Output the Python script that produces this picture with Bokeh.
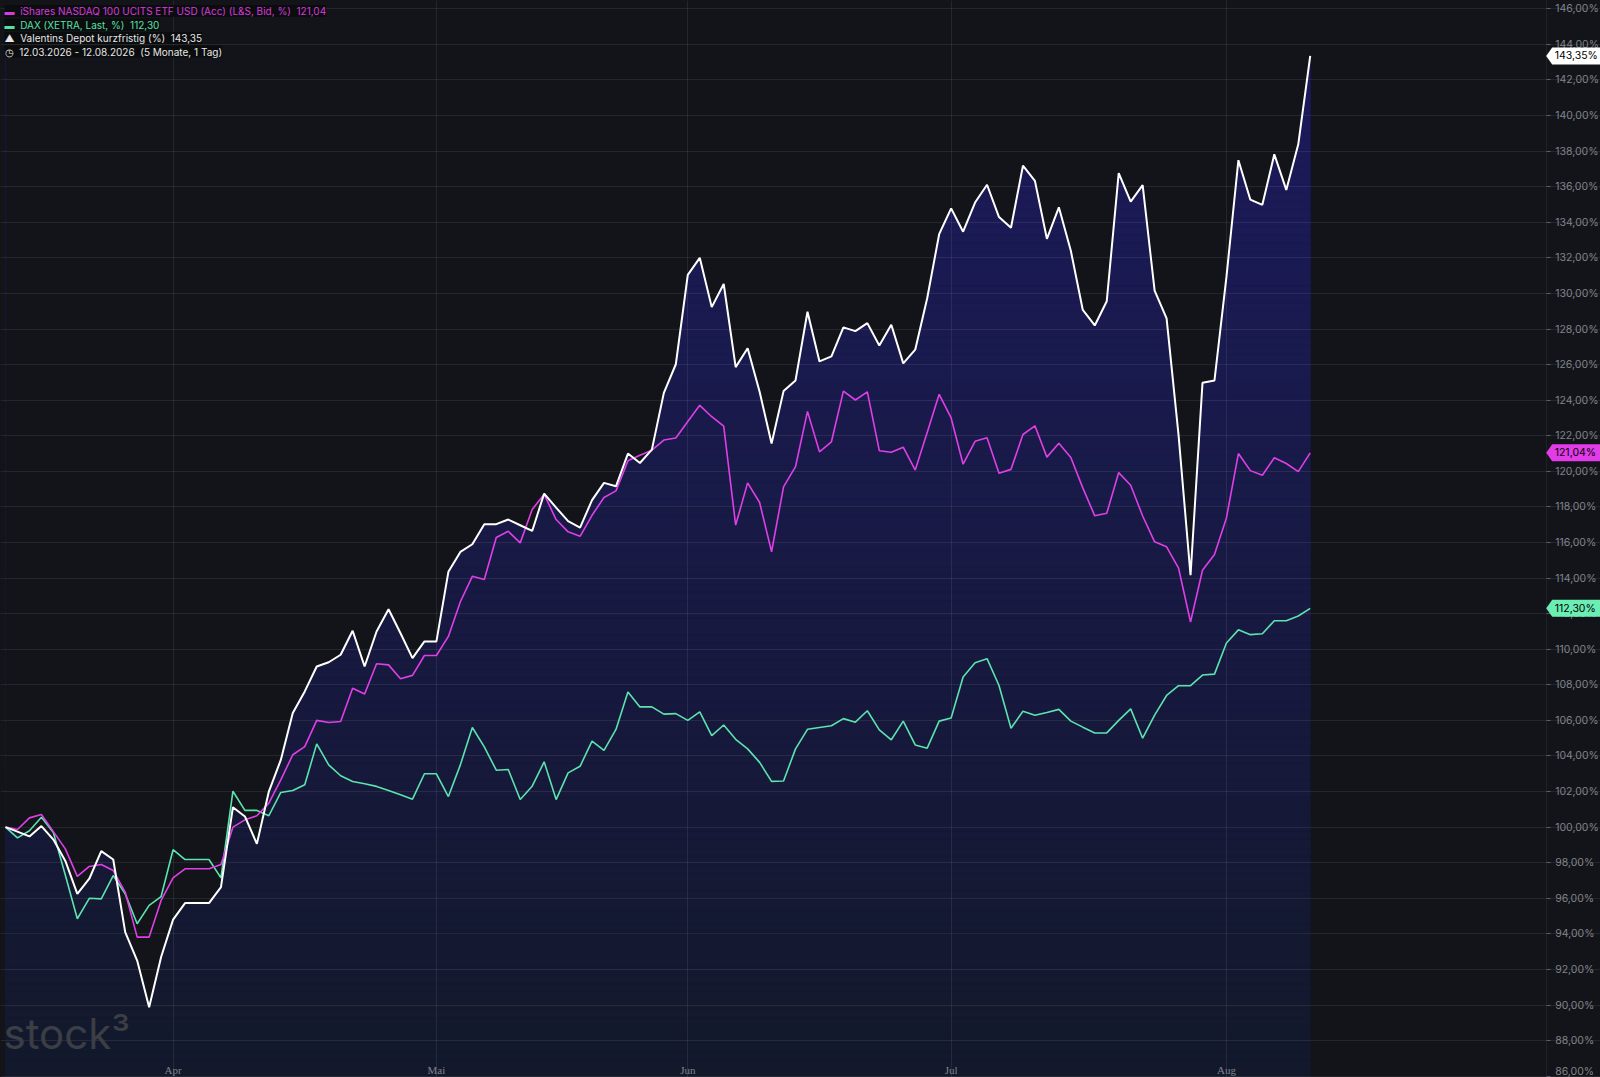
import numpy as np
import pandas as pd
from bokeh.plotting import figure
from bokeh.models import (ColumnDataSource, FixedTicker, CustomJSTickFormatter, Label,
                          LabelSet, Range1d, GlobalInlineStyleSheet)
from bokeh.embed import file_html
from bokeh.resources import INLINE
from bokeh.core.properties import value

# ---------------- data ----------------
dates = pd.bdate_range("2026-03-12", "2026-08-12")   # weekday axis (110 points)

depot = [100.0, 99.75, 99.48, 100.06, 99.3, 98.1, 96.25, 97.1, 98.65, 98.18,
         94.1, 92.5, 89.88, 92.7, 94.8, 95.73, 95.73, 95.73, 96.63, 101.12,
         100.6, 99.06, 102.0, 103.78, 106.41, 107.63, 109.03, 109.27, 109.69, 111.04,
         109.03, 111.0, 112.25, 110.9, 109.5, 110.44, 110.44, 114.35, 115.47, 115.9,
         117.03, 117.03, 117.29, 116.97, 116.65, 118.75, 117.96, 117.2, 116.84, 118.38,
         119.35, 119.16, 121.0, 120.47, 121.22, 124.41, 126.02, 131.04, 132.0, 129.23,
         130.53, 125.86, 126.92, 124.47, 121.56, 124.51, 125.11, 128.97, 126.18, 126.46,
         128.09, 127.88, 128.33, 127.07, 128.24, 126.07, 126.84, 129.73, 133.33, 134.78,
         133.47, 135.11, 136.11, 134.29, 133.69, 137.18, 136.33, 133.07, 134.84, 132.4,
         129.07, 128.2, 129.56, 136.76, 135.16, 136.09, 130.16, 128.6, 122.04, 114.16,
         124.98, 125.11, 130.93, 137.49, 135.27, 134.98, 137.82, 135.82, 138.38, 143.35]

nasdaq = [100.0, 99.87, 100.52, 100.71, 99.75, 98.78, 97.23, 97.79, 97.9, 97.56,
          96.35, 93.82, 93.82, 95.88, 97.15, 97.66, 97.66, 97.66, 97.9, 100.0,
          100.41, 100.64, 101.35, 102.66, 104.07, 104.53, 106.0, 105.88, 105.94, 107.81,
          107.48, 109.18, 109.12, 108.34, 108.53, 109.65, 109.65, 110.72, 112.67, 114.1,
          113.92, 116.28, 116.63, 115.98, 117.85, 118.71, 117.29, 116.6, 116.35, 117.53,
          118.53, 118.9, 120.59, 120.9, 121.19, 121.76, 121.87, 122.8, 123.71, 123.07,
          122.54, 116.98, 119.35, 118.25, 115.48, 119.13, 120.26, 123.37, 121.1, 121.66,
          124.51, 124.01, 124.47, 121.16, 121.07, 121.36, 120.07, 122.18, 124.33, 123.0,
          120.4, 121.69, 121.89, 119.89, 120.11, 122.07, 122.56, 120.8, 121.58, 120.78,
          119.07, 117.5, 117.64, 119.93, 119.22, 117.49, 116.04, 115.76, 114.56, 111.53,
          114.44, 115.33, 117.38, 121.0, 120.04, 119.78, 120.76, 120.44, 119.98, 121.04]

dax = [100.0, 99.4, 99.8, 100.56, 99.7, 97.3, 94.85, 96.0, 95.97, 97.28,
       96.25, 94.57, 95.6, 96.1, 98.73, 98.18, 98.18, 98.18, 97.15, 102.02,
       100.94, 100.94, 100.64, 101.95, 102.06, 102.38, 104.68, 103.5, 102.89, 102.57,
       102.44, 102.29, 102.06, 101.82, 101.57, 103.0, 103.0, 101.72, 103.5, 105.6,
       104.51, 103.2, 103.24, 101.55, 102.3, 103.67, 101.55, 103.05, 103.42, 104.83,
       104.32, 105.49, 107.6, 106.76, 106.76, 106.35, 106.38, 106.0, 106.48, 105.14,
       105.74, 104.94, 104.4, 103.64, 102.57, 102.59, 104.4, 105.5, 105.6, 105.7,
       106.1, 105.9, 106.54, 105.47, 104.91, 105.96, 104.62, 104.44, 105.96, 106.13,
       108.44, 109.24, 109.47, 107.96, 105.56, 106.51, 106.29, 106.44, 106.62, 105.96,
       105.62, 105.29, 105.3, 106.0, 106.65, 105.0, 106.3, 107.4, 107.95, 107.95,
       108.55, 108.6, 110.35, 111.09, 110.82, 110.87, 111.6, 111.6, 111.87, 112.3]

month_names = ["Apr", "Mai", "Jun", "Jul", "Aug"]
month_numbers = [4, 5, 6, 7, 8]
y_ticks = list(range(86, 147, 2))

series_names = ["iShares NASDAQ 100 UCITS ETF USD (Acc) (L&S, Bid, %)",
                "DAX (XETRA, Last, %)",
                "Valentins Depot kurzfristig (%)"]
period_note = "(5 Monate, 1 Tag)"

# ---------------- styling ----------------
BG = "#121419"
MAG = "#df3fe6"
GRN = "#5ce3ae"
WHT = "#ffffff"
AXIS_TXT = "#80838b"

W, H = 1600, 1077
PX_X = 11.97            # pixels per trading day
PX_Y = 17.79            # pixels per percent
x0 = -5 / PX_X
x1 = x0 + W / PX_X
y1 = 146 + 8.3 / PX_Y
y0 = y1 - H / PX_Y
x_axis_pos = x0 + 1545.7 / PX_X   # location of the price scale line

idx = np.arange(len(dates))
white = np.array(depot)
mag = np.array(nasdaq)
grn = np.array(dax)
month_idx = [int(np.argmax(dates.month == m)) for m in month_numbers]

p = figure(width=W, height=H, output_backend="svg", toolbar_location=None,
           x_range=Range1d(x0, x1), y_range=Range1d(y0, y1),
           x_axis_location=None, y_axis_location="right",
           min_border_left=0, min_border_top=0, min_border_bottom=0, min_border_right=0)
p.background_fill_color = BG
p.border_fill_color = BG
p.outline_line_color = None
p.stylesheets = [GlobalInlineStyleSheet(css="body { background-color: #121419; }")]

# gradient fill under the depot line: horizontal bands, masked above the line
nb = 120
edges = np.linspace(y0, white.max(), nb + 1)
top_rgb = np.array([0x1c, 0x1a, 0x5c])
bot_rgb = np.array([0x13, 0x19, 0x2b])
cols = []
for k in range(nb):
    t = (0.5 * (edges[k] + edges[k + 1]) - y0) / (white.max() - y0)
    c = (bot_rgb + t * (top_rgb - bot_rgb)).round().astype(int)
    cols.append("#%02x%02x%02x" % tuple(c))
p.quad(left=idx[0], right=idx[-1], bottom=edges[:-1], top=edges[1:],
       fill_color=cols, line_color=cols, line_width=1, level="image")
p.varea(x=idx, y1=white, y2=y1 + 5, fill_color=BG, level="image")

# grids
p.ygrid.ticker = FixedTicker(ticks=y_ticks)
p.ygrid.grid_line_color = "#ffffff"
p.ygrid.grid_line_alpha = 0.08
p.xgrid.ticker = FixedTicker(ticks=month_idx)
p.xgrid.grid_line_color = "#ffffff"
p.xgrid.grid_line_alpha = 0.08
# price-scale strip (covers grid lines right of the scale line)
p.quad(left=x_axis_pos, right=x1 + 1, bottom=y0 - 1, top=y1 + 1,
       fill_color=BG, line_color=None, level="underlay")

# lines
p.line(idx, grn, line_color=GRN, line_width=1.6)
p.line(idx, mag, line_color=MAG, line_width=1.6)
p.line(idx, white, line_color=WHT, line_width=2)

# right price scale (axis fixed at the scale line)
ax = p.yaxis[0]
ax.fixed_location = x_axis_pos
ax.ticker = FixedTicker(ticks=y_ticks)
ax.formatter = CustomJSTickFormatter(code="return tick.toFixed(2).replace('.', ',') + '%';")
ax.major_label_text_font = "Inter"
ax.major_label_text_font_size = "10.5px"
ax.major_label_text_color = AXIS_TXT
ax.major_label_standoff = 5
ax.axis_line_color = "#1f2127"
ax.major_tick_line_color = "#5d6068"
ax.major_tick_out = 4
ax.major_tick_in = 0
ax.minor_tick_line_color = None

# month labels inside bottom of plot
msrc = ColumnDataSource(dict(x=month_idx, name=month_names))
p.add_layout(LabelSet(x="x", y=8, y_units="screen", text="name", source=msrc,
                      text_align="center", text_baseline="middle",
                      text_font="Inter", text_font_size="11px", text_color=AXIS_TXT))

# last value tags
def fmt(v):
    return ("%.2f" % v).replace(".", ",")

last_vals = [white[-1], mag[-1], grn[-1]]
tag_fill = ["#ffffff", "#e23ce8", "#6beeb4"]
hh = 8.5 / PX_Y
tip = x_axis_pos
notch = tip + 6 / PX_X
rgt = x1
tsrc = ColumnDataSource(dict(
    xs=[[tip, notch, rgt, rgt, notch] for v in last_vals],
    ys=[[v, v + hh, v + hh, v - hh, v - hh] for v in last_vals],
    fill=tag_fill,
    tx=[notch + 2.5 / PX_X] * len(last_vals),
    ty=last_vals,
    label=[fmt(v) + "%" for v in last_vals]))
p.patches("xs", "ys", source=tsrc, fill_color="fill", line_color=None, level="overlay")
p.text("tx", "ty", text="label", source=tsrc, text_baseline="middle",
       text_font=value("Inter"), text_font_size="10.5px", text_color="#000000",
       level="overlay")

# legend rows (top-left)
NB = "\u00a0"
rows = [("\u25ac" + NB * 2 + series_names[0] + NB * 2 + fmt(mag[-1]), "#d83ade"),
        ("\u25ac" + NB * 2 + series_names[1] + NB * 2 + fmt(grn[-1]), "#55e0a6"),
        ("\u25b2" + NB * 2 + series_names[2] + NB * 2 + fmt(white[-1]), "#e6e6e6"),
        ("\u25f7" + NB * 2 + dates[0].strftime("%d.%m.%Y") + " - " + dates[-1].strftime("%d.%m.%Y")
         + NB * 2 + period_note, "#e6e6e6")]
for k, (txt, col) in enumerate(rows):
    p.add_layout(Label(x=4, y=H - 10.5 - 13.5 * k, x_units="screen", y_units="screen",
                       text=txt, text_baseline="middle", text_font="Inter",
                       text_font_size="10px", text_color=col,
                       background_fill_color="#0a0b0d", background_fill_alpha=0.85))

# watermark
p.add_layout(Label(x=3, y=H - 1033, x_units="screen", y_units="screen", text="stock³",
                   text_font="Inter", text_font_size="42px", text_color="#3b3e45",
                   text_baseline="alphabetic"))

open("out.html", "w").write(file_html(p, INLINE))
